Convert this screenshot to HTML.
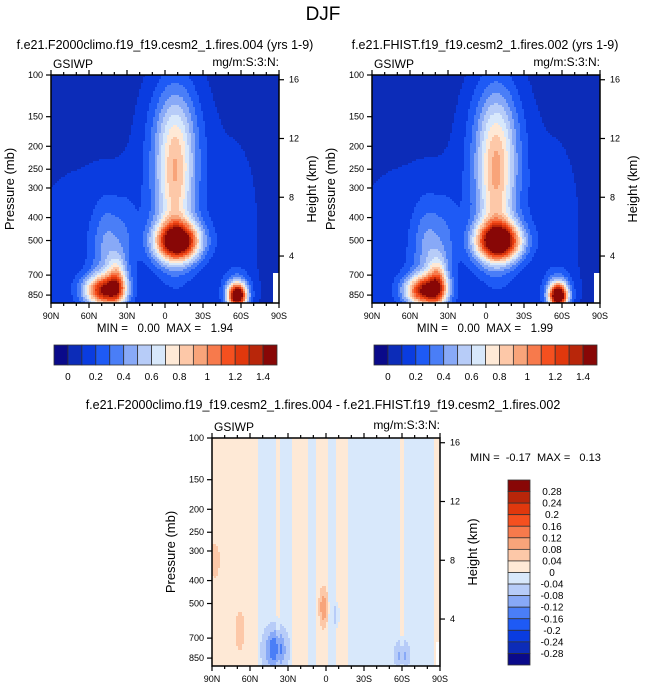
<!DOCTYPE html>
<html><head><meta charset="utf-8"><style>
body{margin:0;background:#fff;width:646px;height:691px;overflow:hidden}
svg{display:block;font-family:"Liberation Sans",Arial,sans-serif}
text{white-space:pre}
</style></head><body>
<svg id="chart" width="646" height="691" viewBox="0 0 646 691" xml:space="preserve">
<text x="323" y="20" font-size="19" text-anchor="middle">DJF</text>
<g id="g1"></g>
<g id="g2"></g>
<g id="g3"></g>
</svg>
<script>
// ---- data ----
const colors=["#0a0a8a","#0c2cb8","#0a3ce0","#1e5af5","#4a7ef7","#88a9f7","#b7ccf8","#d8e8fb","#fee9d6","#fdc8a8","#f8a47a","#f77a4c","#f5501f","#e0380d","#b8260a","#880706"];
const pressureTicks=[100,150,200,250,300,400,500,700,850];
const heightTicks=[16,12,8,4];
const latTicks=[90,60,30,0,-30,-60,-90];
const latTickLabels=["90N","60N","30N","0","30S","60S","90S"];
const absBarLabels=["0","0.2","0.4","0.6","0.8","1","1.2","1.4"];
const diffBarLabels=["0.28","0.24","0.2","0.16","0.12","0.08","0.04","0","-0.04","-0.08","-0.12","-0.16","-0.2","-0.24","-0.28"];
// climatology blobs: lat, pressure, amplitude, lat width, log-p width
const blobLat=[60,-55,45,30,48,38,-10,-8,-8,-8,-57,-57,0];
const blobP=[560,450,560,500,815,750,505,280,300,170,855,830,820];
const blobAmp=[0.1,0.1,0.3,0.1,1.15,0.55,1.4,0.42,0.35,0.2,1.4,0.3,-0.04];
const blobSLat=[40,15,9,6,11,5,12,9,16,14,5,8,16];
const blobSLogp=[0.3,0.3,0.15,0.15,0.045,0.07,0.055,0.2,0.3,0.15,0.035,0.06,0.08];
const baseValue=0.05;
const fhistScale=1.03;
// difference: vertical bands (lat edges, value) and blobs
const bandEdges=[90,53,40,37,27,15,8,0,-2,-8,-18,-58,-62,-72,-85,-90];
const bandValues=[0.01,-0.02,0.01,-0.02,0.01,-0.02,0.01,0.01,-0.02,0.01,-0.02,0.01,-0.02,-0.02,0.01];
const dLat=[2,40,88,68,-60,-8];
const dP=[520,780,330,650,830,560];
const dAmp=[0.1,-0.14,0.05,0.06,-0.08,-0.05];
const dSLat=[2.5,6,4,3,4,1.5];
const dSLogp=[0.06,0.06,0.07,0.07,0.04,0.03];

const NS="http://www.w3.org/2000/svg";
function mk(tag,attrs,parent){const e=document.createElementNS(NS,tag);for(const k in attrs)e.setAttribute(k,attrs[k]);parent.appendChild(e);return e;}
function absField(lat,p,scale){let v=baseValue;const lp=Math.log10(p);
 for(let i=0;i<blobLat.length;i++){const a=(lat-blobLat[i])/blobSLat[i],b=(lp-Math.log10(blobP[i]))/blobSLogp[i];v+=blobAmp[i]*scale*Math.exp(-0.5*(a*a+b*b));}
 return v;}
function absBin(v){return Math.max(0,Math.min(15,Math.floor(v/0.1)+1));}
function diffField(lat,p){let v=0;for(let i=0;i<bandValues.length;i++){if(lat<=bandEdges[i]&&lat>=bandEdges[i+1]){v=bandValues[i];break;}}
 const lp=Math.log10(p);
 for(let i=0;i<dLat.length;i++){const a=(lat-dLat[i])/dSLat[i],b=(lp-Math.log10(dP[i]))/dSLogp[i];v+=dAmp[i]*Math.exp(-0.5*(a*a+b*b));}
 return v;}
function diffBin(v){return Math.max(0,Math.min(15,Math.floor((v+0.32)/0.04)));}

function panel(g,L,T,W,H,field,bin,mask){
 const R=L+W,B=T+H,dec=236.8;
 const yOf=p=>T+(Math.log10(p)-2)*dec;
 const pOf=y=>Math.pow(10,2+(y-T)/dec);
 const xOf=lat=>L+(90-lat)/180*W;
 const latOf=x=>90-(x-L)/W*180;
 const fg=mk('g',{},g);
 
 
 const c=2;
 for(let y=T;y<B;y+=c){const p=pOf(y+c/2);let run=null,rx=L;
  for(let x=L;x<=R;x+=c){let col=null;
   if(x<R){const lat=latOf(x+c/2);col=(mask&&mask(lat,p))?'#fff':colors[bin(field(lat,p))];}
   if(col!==run){if(run!==null){const r=mk('rect',{x:rx,y:y,width:Math.min(x,R)-rx+0.5,height:c+0.5,fill:run},fg);}run=col;rx=x;}
  }}
 const fr=mk('rect',{x:L,y:T,width:W,height:H,fill:'none',stroke:'#000','stroke-width':1.5},g);
 
 for(let lat=90;lat>=-90;lat-=10){const x=xOf(lat),maj=lat%30===0,l=maj?5:3;
  mk('line',{x1:x,x2:x,y1:B,y2:B+l,stroke:'#000','stroke-width':1.2},g);
  mk('line',{x1:x,x2:x,y1:T,y2:T-l,stroke:'#000','stroke-width':1.2},g);}
 latTicks.forEach((lat,i)=>{const t=mk('text',{x:xOf(lat),y:B+16,'font-size':9,'text-anchor':'middle'},g);t.textContent=latTickLabels[i];
  });
 pressureTicks.forEach(p=>{const y=yOf(p);mk('line',{x1:L-5,x2:L,y1:y,y2:y,stroke:'#000','stroke-width':1.2},g);
  const t=mk('text',{x:L-8,y:y+3,'font-size':9,'text-anchor':'end'},g);t.textContent=p;
  });
 heightTicks.forEach(h=>{const p=1000*Math.exp(-h/7);const y=yOf(p)+3;
  mk('line',{x1:R,x2:R+5,y1:y,y2:y,stroke:'#000','stroke-width':1.2},g);
  const t=mk('text',{x:R+10,y:y+3,'font-size':9},g);t.textContent=h;
  });
 const yl=mk('text',{x:0,y:0,'font-size':13,'text-anchor':'middle',transform:`translate(${L-37},${(T+B)/2}) rotate(-90)`},g);yl.textContent='Pressure (mb)';
 
 const yr=mk('text',{x:0,y:0,'font-size':13,'text-anchor':'middle',transform:`translate(${R+37},${(T+B)/2}) rotate(-90)`},g);yr.textContent='Height (km)';
 
 const v=mk('text',{x:L+2,y:T-7,'font-size':12},g);v.textContent='GSIWP';
 
 const u=mk('text',{x:R,y:T-9,'font-size':12,'text-anchor':'end'},g);u.textContent='mg/m:S:3:N:';
 
}
function hbar(g,L,T,W,H){const w=W/16;
 colors.forEach((c,i)=>{const r=mk('rect',{x:L+i*w,y:T,width:w,height:H,fill:c,stroke:'#333','stroke-width':0.8},g);
  });
 absBarLabels.forEach((s,i)=>{const t=mk('text',{x:L+(1+2*i)*w,y:T+H+15,'font-size':10,'text-anchor':'middle'},g);t.textContent=s;
  });}
function txt(g,x,y,s,size,anchor,name){const t=mk('text',{x:x,y:y,'font-size':size,'text-anchor':anchor},g);t.textContent=s;
 return t;}

const g1=document.getElementById('g1'),g2=document.getElementById('g2'),g3=document.getElementById('g3');
const corner=(lat,p)=>lat<-86&&p>680;
txt(g1,165,49,'f.e21.F2000climo.f19_f19.cesm2_1.fires.004 (yrs 1-9)',12.5,'middle','panel-title');
panel(g1,51,75,228,228,(a,p)=>absField(a,p,1),absBin,corner);
txt(g1,165,332,'MIN =   0.00  MAX =   1.94',11.5,'middle','min-max-label');
hbar(g1,54,345,223,20);
txt(g2,485,49,'f.e21.FHIST.f19_f19.cesm2_1.fires.002 (yrs 1-9)',12.5,'middle','panel-title');
panel(g2,372,75,228,228,(a,p)=>absField(a,p,fhistScale),absBin,corner);
txt(g2,485,332,'MIN =   0.00  MAX =   1.99',11.5,'middle','min-max-label');
hbar(g2,374,345,223,20);
txt(g3,323,409,'f.e21.F2000climo.f19_f19.cesm2_1.fires.004 - f.e21.FHIST.f19_f19.cesm2_1.fires.002',12.5,'middle','panel-title');
panel(g3,212,438,228,228,diffField,diffBin,(lat,p)=>lat<-87&&p>720);
txt(g3,470,461,'MIN =  -0.17  MAX =   0.13',11,'start','min-max-label');
(function(){const L=508,T=480,W=22,H=185,h=H/16;
 for(let i=0;i<16;i++){const r=mk('rect',{x:L,y:T+i*h,width:W,height:h,fill:colors[15-i],stroke:'#333','stroke-width':0.8},g3);
  }
 diffBarLabels.forEach((s,i)=>{const t=mk('text',{x:552,y:T+(i+1)*h+3.5,'font-size':10,'text-anchor':'middle'},g3);t.textContent=s;
  });})();
</script>
</body></html>
